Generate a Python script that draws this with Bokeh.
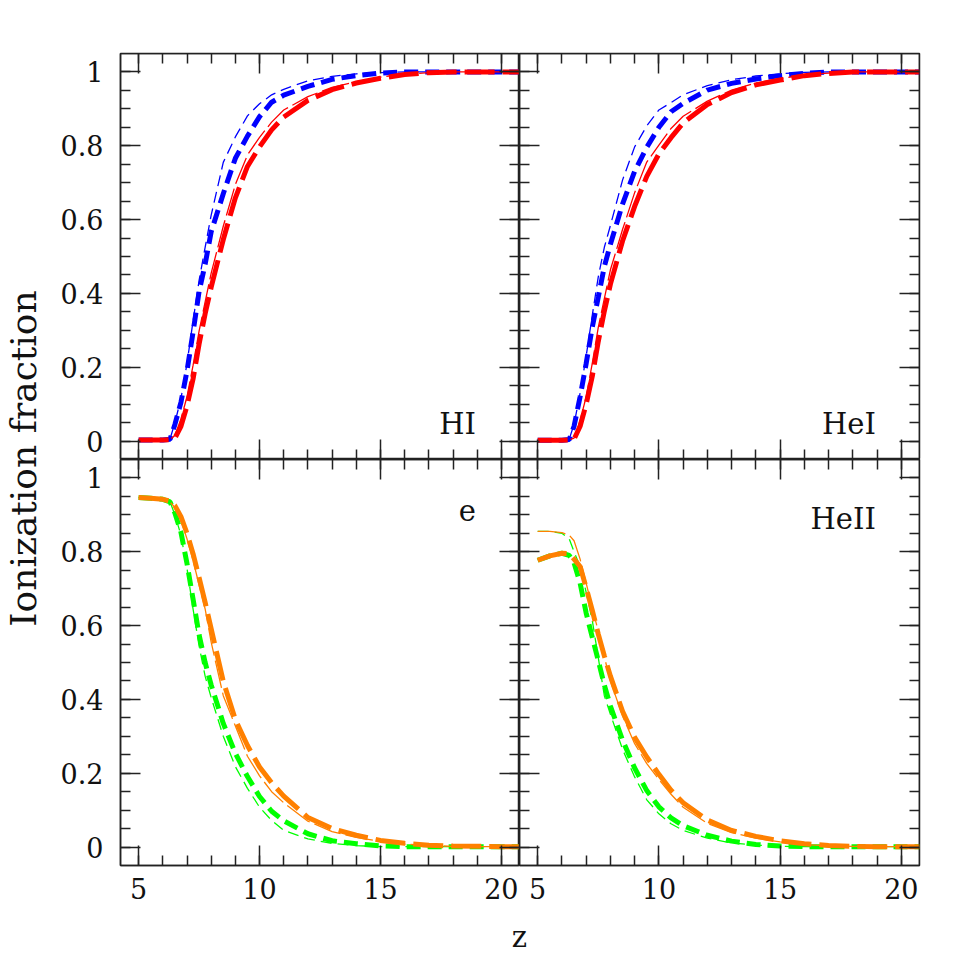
import numpy as np
from bokeh.plotting import figure
from bokeh.layouts import row, column
from bokeh.models import LinearAxis, FixedTicker, CustomJSTickFormatter, Label, Range1d
from bokeh.embed import file_html
from bokeh.resources import INLINE

# ---------------- data ----------------
z = [5, 5.5, 6, 6.3, 6.5, 6.75, 7, 7.25, 7.5, 7.75, 8, 8.5, 9, 9.5, 10, 10.5, 11,
     12, 13, 14, 15, 16, 17, 18, 19, 20, 21]

# HI panel
hi_blue_thin = [0.003, 0.003, 0.003, 0.006, 0.05, 0.115, 0.21, 0.325, 0.435, 0.525, 0.612, 0.755, 0.824,
                0.881, 0.914, 0.938, 0.953, 0.976, 0.988, 0.995, 0.998, 1, 1, 1, 1, 1, 1]
hi_blue_thick = [0.003, 0.003, 0.003, 0.005, 0.045, 0.105, 0.19, 0.295, 0.405, 0.479, 0.567, 0.67, 0.766,
                 0.826, 0.879, 0.918, 0.937, 0.961, 0.98, 0.99, 0.997, 1, 1, 1, 1, 1, 1]
hi_red_thin = [0.003, 0.003, 0.003, 0.004, 0.015, 0.06, 0.12, 0.205, 0.298, 0.377, 0.455, 0.582, 0.695,
               0.775, 0.823, 0.864, 0.897, 0.933, 0.958, 0.974, 0.986, 0.994, 0.998, 1, 1, 1, 1]
hi_red_thick = [0.003, 0.003, 0.003, 0.004, 0.008, 0.04, 0.095, 0.168, 0.263, 0.345, 0.417, 0.546, 0.659,
                0.744, 0.797, 0.843, 0.878, 0.923, 0.952, 0.97, 0.983, 0.993, 0.998, 1, 1, 1, 1]

# HeI panel
hei_blue_thin = [0.002, 0.002, 0.002, 0.005, 0.045, 0.13, 0.23, 0.34, 0.445, 0.525, 0.584, 0.707, 0.797,
                 0.854, 0.897, 0.917, 0.938, 0.963, 0.979, 0.989, 0.995, 0.999, 1, 1, 1, 1, 1]
hei_blue_thick = [0.002, 0.002, 0.002, 0.004, 0.04, 0.12, 0.21, 0.308, 0.39, 0.473, 0.533, 0.642, 0.731,
                  0.796, 0.85, 0.892, 0.915, 0.951, 0.969, 0.981, 0.99, 0.996, 1, 1, 1, 1, 1]
hei_red_thin = [0.002, 0.002, 0.002, 0.003, 0.008, 0.055, 0.12, 0.21, 0.308, 0.386, 0.464, 0.573, 0.673,
                0.756, 0.802, 0.847, 0.88, 0.921, 0.951, 0.97, 0.982, 0.992, 0.997, 1, 1, 1, 1]
hei_red_thick = [0.002, 0.002, 0.002, 0.003, 0.005, 0.04, 0.1, 0.175, 0.27, 0.352, 0.425, 0.542, 0.636,
                 0.717, 0.778, 0.822, 0.862, 0.912, 0.944, 0.965, 0.978, 0.99, 0.996, 1, 1, 1, 1]

# e panel
e_green_thin = [0.947, 0.945, 0.942, 0.935, 0.9, 0.845, 0.755, 0.645, 0.545, 0.463, 0.405, 0.3, 0.218,
                0.159, 0.108, 0.072, 0.045, 0.022, 0.01, 0.004, 0.001, 0.001, 0.001, 0.001, 0.001, 0.001, 0.001]
e_green_thick = [0.947, 0.945, 0.942, 0.935, 0.905, 0.853, 0.768, 0.672, 0.575, 0.5, 0.439, 0.335, 0.254,
                 0.191, 0.137, 0.097, 0.071, 0.036, 0.017, 0.009, 0.003, 0.001, 0.001, 0.001, 0.001, 0.001, 0.001]
e_orange_thin = [0.947, 0.945, 0.942, 0.935, 0.92, 0.885, 0.835, 0.777, 0.71, 0.645, 0.555, 0.41, 0.328,
                 0.246, 0.193, 0.15, 0.12, 0.07, 0.042, 0.026, 0.015, 0.008, 0.004, 0.002, 0.001, 0.001, 0.001]
e_orange_thick = [0.947, 0.945, 0.942, 0.937, 0.925, 0.895, 0.85, 0.795, 0.73, 0.663, 0.591, 0.449, 0.345,
                  0.275, 0.217, 0.174, 0.138, 0.08, 0.05, 0.032, 0.018, 0.01, 0.005, 0.003, 0.002, 0.001, 0.001]

# HeII panel
heii_green_thin = [0.855, 0.855, 0.85, 0.835, 0.8, 0.76, 0.69, 0.615, 0.513, 0.41, 0.36, 0.265, 0.19,
                   0.128, 0.09, 0.063, 0.045, 0.024, 0.011, 0.005, 0.002, 0.001, 0.001, 0.001, 0.001, 0.001, 0.001]
heii_green_thick = [0.777, 0.789, 0.796, 0.79, 0.77, 0.715, 0.634, 0.569, 0.505, 0.439, 0.382, 0.29, 0.214,
                    0.153, 0.109, 0.079, 0.058, 0.032, 0.016, 0.007, 0.003, 0.001, 0.001, 0.001, 0.001, 0.001, 0.001]
heii_orange_thin = [0.855, 0.855, 0.852, 0.845, 0.83, 0.78, 0.715, 0.648, 0.585, 0.515, 0.45, 0.355, 0.28,
                    0.226, 0.183, 0.143, 0.108, 0.064, 0.039, 0.024, 0.014, 0.007, 0.003, 0.002, 0.001, 0.001, 0.001]
heii_orange_thick = [0.777, 0.789, 0.796, 0.795, 0.78, 0.76, 0.703, 0.642, 0.577, 0.518, 0.463, 0.368, 0.297,
                     0.244, 0.197, 0.154, 0.12, 0.073, 0.045, 0.029, 0.017, 0.009, 0.004, 0.002, 0.001, 0.001, 0.001]

x_ticks = [5, 10, 15, 20]
x_minor_ticks = [5, 6, 7, 8, 9, 10, 11, 12, 13, 14, 15, 16, 17, 18, 19, 20]
y_ticks = [0, 0.2, 0.4, 0.6, 0.8, 1.0]
y_minor_ticks = [0, 0.05, 0.1, 0.15, 0.2, 0.25, 0.3, 0.35, 0.4, 0.45, 0.5, 0.55, 0.6, 0.65,
                 0.7, 0.75, 0.8, 0.85, 0.9, 0.95, 1.0]
panel_names = ["HI", "HeI", "e", "HeII"]
x_label = "z"
y_label = "Ionization fraction"

# ---------------- styling ----------------
FONT = "DejaVu Serif"
INK = "#222222"
X0, X1 = 4.25, 20.75
Y0, Y1 = -0.05, 1.05
FW_L, FW_R, FH = 399, 400, 406
B_LEFT, B_RIGHT, B_TOP, B_BOTTOM = 72, 20, 53, 55
YLAB_W = 48
ZLAB_H = 40

BLUE, RED, GREEN, ORANGE = "#0000ff", "#ff0000", "#00ff00", "#ff8000"
THIN_SHORT = dict(line_width=1.3, line_dash="11 6")
THICK_SHORT = dict(line_width=5, line_dash="14 7")
THIN_LONG = dict(line_width=1.3, line_dash="28 5")
THICK_LONG = dict(line_width=5, line_dash="30 8")


def add_axis(p, side, labeled):
    horizontal = side in ("below", "above")
    ticker = FixedTicker(ticks=x_ticks if horizontal else y_ticks,
                         minor_ticks=x_minor_ticks if horizontal else y_minor_ticks)
    ax = LinearAxis(ticker=ticker)
    if not labeled:
        ax.fixed_location = {"below": Y0, "above": Y1, "left": X0, "right": X1}[side]
    ax.major_tick_in = 20
    ax.major_tick_out = 0
    ax.minor_tick_in = 10
    ax.minor_tick_out = 0
    ax.axis_line_color = INK
    ax.axis_line_width = 1.5
    ax.major_tick_line_color = INK
    ax.major_tick_line_width = 1.5
    ax.minor_tick_line_color = INK
    ax.minor_tick_line_width = 1.5
    if labeled:
        ax.major_label_text_font = FONT
        ax.major_label_text_font_size = "27px"
        ax.major_label_text_color = "#111111"
        if horizontal:
            ax.major_label_standoff = 12
        else:
            ax.major_label_standoff = 17
            ax.formatter = CustomJSTickFormatter(code="return tick.toFixed(1).replace(/\\.0$/, '');")
    else:
        ax.formatter = CustomJSTickFormatter(code="return '';")
    p.add_layout(ax, side)


def panel(fw, bl, br, bt, bb, lab_left, lab_bottom, name, name_y, series):
    p = figure(frame_width=fw, frame_height=FH,
               x_range=Range1d(X0, X1), y_range=Range1d(Y0, Y1),
               x_axis_location=None, y_axis_location=None,
               toolbar_location=None, output_backend="svg",
               min_border_left=bl, min_border_right=br,
               min_border_top=bt, min_border_bottom=bb,
               background_fill_color="white", border_fill_color="white",
               outline_line_color=INK, outline_line_width=1.5)
    p.grid.grid_line_color = None
    for ys, color, style in series:
        p.line(z, ys, line_color=color, line_cap="butt", **style)
    add_axis(p, "below", lab_bottom)
    add_axis(p, "above", False)
    add_axis(p, "left", lab_left)
    add_axis(p, "right", False)
    p.add_layout(Label(x=18.95, y=name_y, text=name, text_align="right",
                       text_baseline="alphabetic", text_font=FONT,
                       text_font_size="29px", text_color="#111111"))
    return p


p_hi = panel(FW_L, B_LEFT, 0, B_TOP, 0, True, False, panel_names[0], 0.046, [
    (hi_blue_thin, BLUE, THIN_SHORT), (hi_blue_thick, BLUE, THICK_SHORT),
    (hi_red_thin, RED, THIN_LONG), (hi_red_thick, RED, THICK_LONG)])
p_hei = panel(FW_R, 0, B_RIGHT, B_TOP, 0, False, False, panel_names[1], 0.046, [
    (hei_blue_thin, BLUE, THIN_SHORT), (hei_blue_thick, BLUE, THICK_SHORT),
    (hei_red_thin, RED, THIN_LONG), (hei_red_thick, RED, THICK_LONG)])
p_e = panel(FW_L, B_LEFT, 0, 0, B_BOTTOM, True, True, panel_names[2], 0.912, [
    (e_green_thin, GREEN, THIN_SHORT), (e_green_thick, GREEN, THICK_SHORT),
    (e_orange_thin, ORANGE, THIN_LONG), (e_orange_thick, ORANGE, THICK_LONG)])
p_heii = panel(FW_R, 0, B_RIGHT, 0, B_BOTTOM, False, True, panel_names[3], 0.89, [
    (heii_green_thin, GREEN, THIN_SHORT), (heii_green_thick, GREEN, THICK_SHORT),
    (heii_orange_thin, ORANGE, THIN_LONG), (heii_orange_thick, ORANGE, THICK_LONG)])

GRID_W = B_LEFT + FW_L + FW_R + B_RIGHT
TOTAL_H = B_TOP + 2 * FH + B_BOTTOM + ZLAB_H


def blank(w, h):
    f = figure(width=w, height=h, x_range=Range1d(0, w), y_range=Range1d(0, h),
               x_axis_location=None, y_axis_location=None, toolbar_location=None,
               output_backend="svg", min_border=0, outline_line_color=None,
               background_fill_color="white", border_fill_color="white")
    f.grid.grid_line_color = None
    return f


ylab = blank(YLAB_W, TOTAL_H)
ylab.add_layout(Label(x=23, y=TOTAL_H - 458, text=y_label, angle=np.pi / 2,
                      text_align="center", text_baseline="middle", text_font=FONT,
                      text_font_size="36px", text_color="#111111"))
zlab = blank(GRID_W, ZLAB_H)
zlab.add_layout(Label(x=B_LEFT + FW_L, y=24, text=x_label, text_align="center",
                      text_baseline="alphabetic", text_font=FONT,
                      text_font_size="29px", text_color="#111111"))

layout = row(ylab, column(row(p_hi, p_hei), row(p_e, p_heii), zlab))

open("out.html", "w").write(file_html(layout, INLINE))
